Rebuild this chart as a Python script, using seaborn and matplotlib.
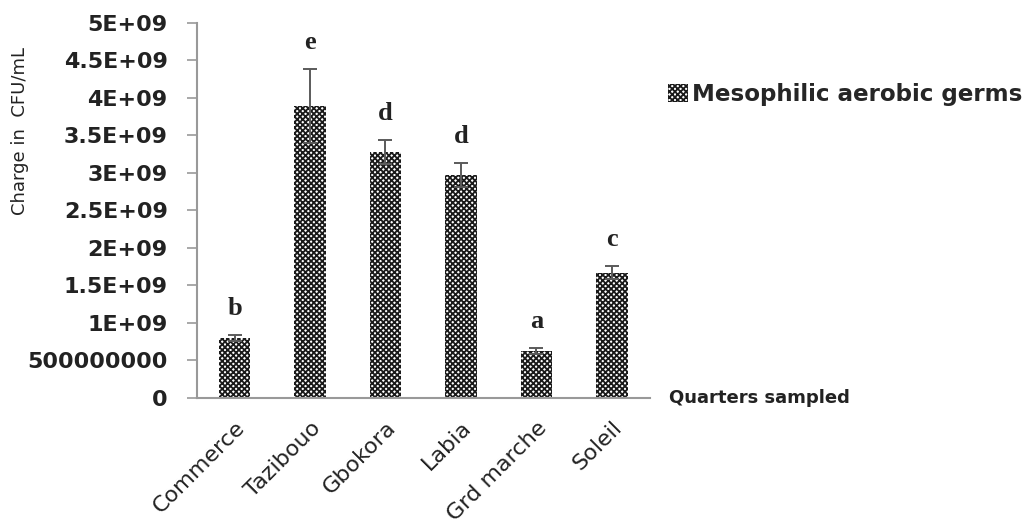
import numpy as np
import pandas as pd
import seaborn as sns
import matplotlib.pyplot as plt
from matplotlib.patches import Patch

# data
quarters = ["Commerce", "Tazibouo", "Gbokora", "Labia", "Grd marche", "Soleil"]
germs = [0.80e9, 3.89e9, 3.28e9, 2.97e9, 0.62e9, 1.67e9]
errors = [0.04e9, 0.49e9, 0.16e9, 0.16e9, 0.04e9, 0.09e9]
letters = ["b", "e", "d", "d", "a", "c"]
ytick_values = [0, 0.5e9, 1e9, 1.5e9, 2e9, 2.5e9, 3e9, 3.5e9, 4e9, 4.5e9, 5e9]
ytick_labels = ["0", "500000000", "1E+09", "1.5E+09", "2E+09", "2.5E+09",
                "3E+09", "3.5E+09", "4E+09", "4.5E+09", "5E+09"]

df = pd.DataFrame({"Quarter": quarters, "Load": germs})

sns.set_style("white")
plt.rcParams["font.family"] = ["DejaVu Sans"]
plt.rcParams["hatch.linewidth"] = 1.3

fig = plt.figure(figsize=(10.36, 5.31), dpi=100)
ax = fig.add_axes([0.190, 0.2505, 0.437, 0.7062])

sns.barplot(data=df, x="Quarter", y="Load", color="white", width=0.42,
            edgecolor="#1a1a1a", linewidth=0, hatch="xxxxxx", ax=ax)

# error bars and significance letters
xpos = np.arange(len(quarters))
ax.errorbar(xpos, germs, yerr=errors, fmt="none", ecolor="#5a5a5a",
            elinewidth=1.4, capsize=5, capthick=1.4)
for x, v, e, l in zip(xpos, germs, errors, letters):
    ax.annotate(l, (x, v + e), xytext=(0, 11), textcoords="offset points",
                ha="center", va="bottom", fontsize=19, fontweight="bold",
                family="Liberation Serif", color="#222222")

ax.set_ylim(0, 5e9)
ax.set_xlim(-0.5, len(quarters) - 0.5)
ax.set_yticks(ytick_values)
ax.set_yticklabels(ytick_labels, fontsize=16, fontweight="bold", color="#222222")
ax.set_xticks(xpos)
ax.set_xticklabels(quarters, rotation=45, ha="right", rotation_mode="anchor",
                   fontsize=16, color="#222222")
ax.set_xticks(np.arange(-0.5, len(quarters)), minor=True)
ax.tick_params(axis="x", which="major", length=0, pad=14)
ax.tick_params(axis="x", which="minor", length=7, color="#999999", width=1.2, direction="out")
ax.tick_params(axis="y", length=7, color="#999999", width=1.2, direction="out", pad=14, left=True)

for s in ["top", "right"]:
    ax.spines[s].set_visible(False)
for s in ["left", "bottom"]:
    ax.spines[s].set_color("#999999")
    ax.spines[s].set_linewidth(1.5)

ax.set_ylabel("")
ax.set_xlabel("Quarters sampled", fontsize=13, fontweight="bold", color="#222222",
              ha="left", va="center")
ax.xaxis.set_label_coords(1.044, 0.0)
fig.text(0.019, 0.753, "Charge in  CFU/mL", rotation=90, fontsize=13,
         color="#222222", ha="center", va="center")

handle = Patch(facecolor="white", edgecolor="#1a1a1a", linewidth=0, hatch="xxxxxx")
fig.legend([handle], ["Mesophilic aerobic germs"], loc="center left",
           bbox_to_anchor=(0.645, 0.822), frameon=False, handlelength=0.85,
           handleheight=0.85, handletextpad=0.2, borderpad=0, borderaxespad=0,
           prop={"size": 16.6, "weight": "bold"})

fig.savefig("out.png", dpi=100)
